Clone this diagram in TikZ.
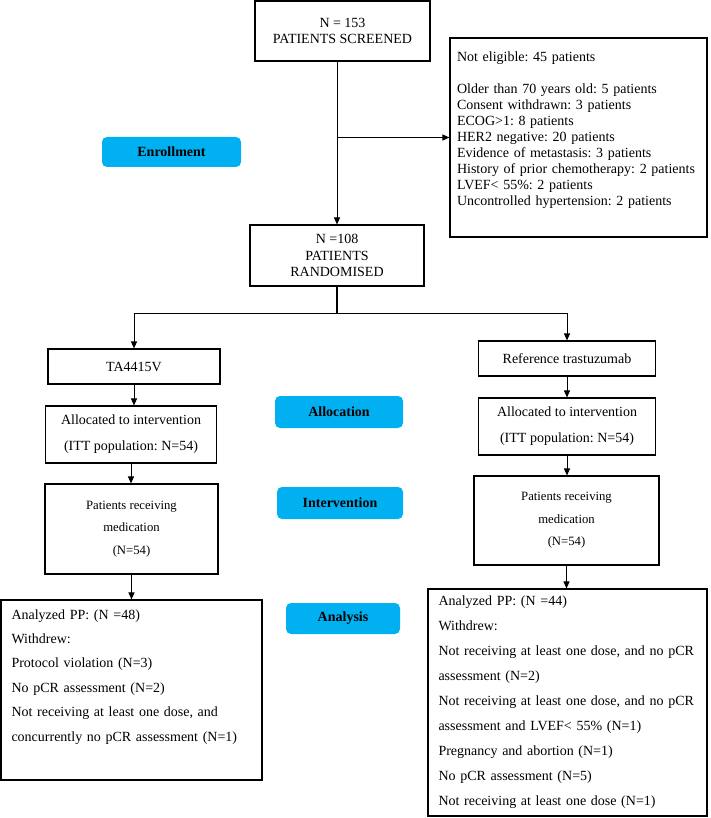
\documentclass[tikz,border=0pt]{standalone}
\usepackage{fontspec}
\setmainfont{Liberation Serif}
\usetikzlibrary{arrows.meta}
\definecolor{phaseblue}{HTML}{00B0F0}
\frenchspacing

\begin{document}
\begin{tikzpicture}[x=1pt,y=-1pt,line width=1pt,>={Triangle[length=7pt,width=6pt]},
    box/.style={draw, line width=1.1pt, inner sep=2pt, align=center, font=\fontsize{14}{16}\selectfont},
    listbox/.style={box, align=left, inner xsep=10pt},
    phase/.style={fill=phaseblue, rounded corners=5pt, inner sep=0pt, font=\fontsize{14}{16}\selectfont\bfseries}]
    \useasboundingbox (0,0) rectangle (711,818);

    \node[box, minimum width=175pt, minimum height=60pt] (screened) at (342.5,31) {N = 153\\PATIENTS SCREENED};
    \node[listbox, text width=243pt, inner xsep=7pt, minimum height=199pt] (excl) at (578.5,137.5) {Not eligible: 45 patients\\[16pt]
        Older than 70 years old: 5 patients\\
        Consent withdrawn: 3 patients\\
        ECOG>1: 8 patients\\
        HER2 negative: 20 patients\\
        Evidence of metastasis: 3 patients\\
        \mbox{History of prior chemotherapy: 2 patients}\\
        LVEF< 55\%: 2 patients\\
        Uncontrolled hypertension: 2 patients\\[2pt]\mbox{}};
    \node[phase, minimum width=139pt, minimum height=30pt] (enroll) at (171.5,152) {Enrollment};
    \node[box, minimum width=174pt, minimum height=61pt, font=\fontsize{14}{16.5}\selectfont] (rand) at (337,255.5) {N =108\\PATIENTS\\RANDOMISED};
    \coordinate (split) at (337,313);

    \node[box, minimum width=172pt, minimum height=35pt] (ta) at (134,366.5) {TA4415V};
    \node[box, minimum width=177pt, minimum height=35pt] (ref) at (567,358.5) {Reference trastuzumab};
    \node[box, minimum width=171pt, minimum height=57pt, font=\fontsize{14}{26}\selectfont] (allocL) at (131,434.5) {Allocated to intervention\\(ITT population: N=54)};
    \node[box, minimum width=177pt, minimum height=57pt, font=\fontsize{14}{26}\selectfont] (allocR) at (567,426.5) {Allocated to intervention\\(ITT population: N=54)};
    \node[phase, minimum width=128pt, minimum height=32pt] (alloc) at (339,412) {Allocation};

    \node[box, minimum width=173pt, minimum height=90pt, font=\fontsize{12.7}{22.5}\selectfont] (medL) at (131.5,529) {Patients receiving\\medication\\(N=54)};
    \node[box, minimum width=185pt, minimum height=89pt, font=\fontsize{12.7}{22.5}\selectfont] (medR) at (566.5,520.5) {Patients receiving\\medication\\(N=54)};
    \node[phase, minimum width=126pt, minimum height=32pt] (interv) at (340,503) {Intervention};

    \node[listbox, text width=240pt, inner xsep=10.5pt, minimum height=180pt, font=\fontsize{14}{24.4}\selectfont] (anaL) at (131.5,690) {Analyzed PP: (N =48)\\
        Withdrew:\\
        Protocol violation (N=3)\\
        No pCR assessment (N=2)\\
        Not receiving at least one dose, and\\
        concurrently no pCR assessment (N=1)\\[5pt]\mbox{}};
    \node[phase, minimum width=114pt, minimum height=31pt] (analysis) at (343,618.5) {Analysis};
    \node[listbox, text width=258pt, inner xsep=10.5pt, minimum height=227pt, font=\fontsize{14}{25}\selectfont] (anaR) at (567.5,702.5) {Analyzed PP: (N =44)\\
        Withdrew:\\
        Not receiving at least one dose, and no pCR\\
        assessment (N=2)\\
        Not receiving at least one dose, and no pCR\\
        assessment and LVEF< 55\% (N=1)\\
        Pregnancy and abortion (N=1)\\
        No pCR assessment (N=5)\\
        Not receiving at least one dose (N=1)};

    \draw[->] (screened.south -| rand) -- (rand);
    \draw[->] (excl.west -| rand) -- (excl.west);
    \draw[line width=1.8pt] (rand) -- (split);
    \draw[->] (split) -| (ta);
    \draw[->] (split) -| (ref);
    \draw[->] (ta) -- (ta |- allocL.north);
    \draw[->] (ref) -- (ref |- allocR.north);
    \draw[->] (allocL) -- (allocL |- medL.north);
    \draw[->] (allocR) -- (allocR |- medR.north);
    \draw[->] (medL) -- (medL |- anaL.north);
    \draw[->] (medR) -- (medR |- anaR.north);
\end{tikzpicture}
\end{document}
